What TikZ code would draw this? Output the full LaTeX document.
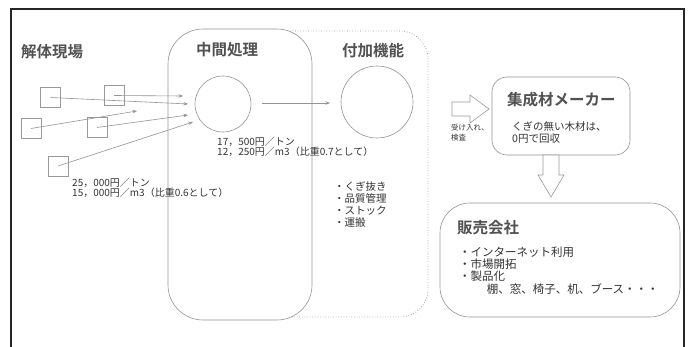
\documentclass[tikz,border=0pt]{standalone}
\usepackage{fontspec}
\setmainfont{Noto Sans CJK JP}[BoldFont={Noto Sans CJK JP Bold}]
\usetikzlibrary{arrows.meta}
\begin{document}
\begin{tikzpicture}[x=1pt,y=-1pt,
  gline/.style={draw=black!42, line width=0.6pt},
  flow/.style={gline, -{Stealth[length=4.5pt,width=3.5pt]}},
  site/.style={draw=black!40, line width=0.6pt, minimum size=20pt, inner sep=0pt},
  ttl/.style={font=\fontsize{15.5}{18}\selectfont\bfseries, text=black!68, inner sep=0pt, anchor=west},
  txt/.style={text=black!80, inner sep=0pt, anchor=west, align=left},
  hollow/.style={draw=black!40, line width=0.6pt, fill=white}]
\useasboundingbox (0,0) rectangle (692,347);
\fill[white] (0,0) rectangle (692,347);
% outer frame
\draw[line width=1.6pt, black!85] (11,347) -- (11,9) -- (684,9) -- (684,347);

% processing boxes
\draw[gline, dotted, line width=0.8pt, rounded corners=28pt] (290,31) -- (428,31) -- (428,317) -- (290,317);
\node[gline, rounded corners=35pt, minimum width=144pt, minimum height=291pt, inner sep=0pt] (mid) at (240,174.5) {};

% titles
\node[ttl] (t1) at (21,52) {解体現場};
\node[ttl] (t2) at (196,50) {中間処理};
\node[ttl] (t3) at (342,51) {付加機能};

% circles
\node[gline, circle, minimum size=56pt, inner sep=0pt] (c1) at (223,104) {};
\node[gline, circle, minimum size=72pt, inner sep=0pt] (c2) at (377,102) {};
\coordinate (c1o) at (262,103);
\coordinate (c2i) at (330,103);
\draw[flow] (c1o) -- (c2i);

% demolition sites
\node[site] (s1) at (50.5,97.5) {};
\node[site] (s2) at (114,95.5) {};
\node[site] (s3) at (31,128.5) {};
\node[site] (s4) at (97,127.5) {};
\node[site] (s5) at (58,166) {};
\coordinate (e1) at (188,104);
\coordinate (e2) at (183,96);
\coordinate (e3) at (137,111);
\coordinate (e4) at (188,115);
\coordinate (e5) at (193,122);
\draw[flow] (s1.center) -- (e1);
\draw[flow] (s2.center) -- (e2);
\draw[flow] (s3.center) -- (e3);
\draw[flow] (s4.center) -- (e4);
\draw[flow] (s5.center) -- (e5);

% prices
\node[txt, font=\fontsize{10}{10}\selectfont] (p1) at (217,147) {17，500円／トン\\12，250円／m3（比重0.7として）};
\node[txt, font=\fontsize{10}{10}\selectfont] (p2) at (72,188) {25，000円／トン\\15，000円／m3（比重0.6として）};

% added functions list
\node[txt, font=\fontsize{10.5}{11.7}\selectfont] (l1) at (334,204.5) {・くぎ抜き\\・品質管理\\・ストック\\・運搬};

% arrow to maker
\coordinate (ra) at (452,109);
\draw[hollow] (ra) ++(0,-7) -- ++(18,0) -- ++(0,-7) -- ++(19,14) -- ++(-19,14) -- ++(0,-7) -- ++(-18,0) -- cycle;
\node[txt, font=\fontsize{7.5}{10}\selectfont] (acc) at (451,133) {受け入れ、\\検査};

% maker box
\node[gline, rounded corners=15pt, minimum width=138pt, minimum height=78pt, inner sep=0pt] (maker) at (561,116) {};
\node[ttl] (mt) at (507,100) {集成材メーカー};
\node[txt, font=\fontsize{10.5}{12}\selectfont] (mx) at (512,133) {くぎの無い木材は、\\0円で回収};

% arrow down
\coordinate (da) at (551,155);
\draw[hollow] (da) ++(-8,0) -- ++(0,20) -- ++(-5,0) -- ++(13,22) -- ++(13,-22) -- ++(-5,0) -- ++(0,-20) -- cycle;

% sales box
\node[gline, rounded corners=30pt, minimum width=240pt, minimum height=114pt, inner sep=0pt] (sales) at (560,260) {};
\node[ttl] (st) at (457,228) {販売会社};
\node[txt, font=\fontsize{11.5}{12.3}\selectfont] (sx) at (459,270.5) {・インターネット利用\\・市場開拓\\・製品化\\\hspace*{2.4em}棚、窓、椅子、机、ブース・・・};
\end{tikzpicture}
\end{document}
